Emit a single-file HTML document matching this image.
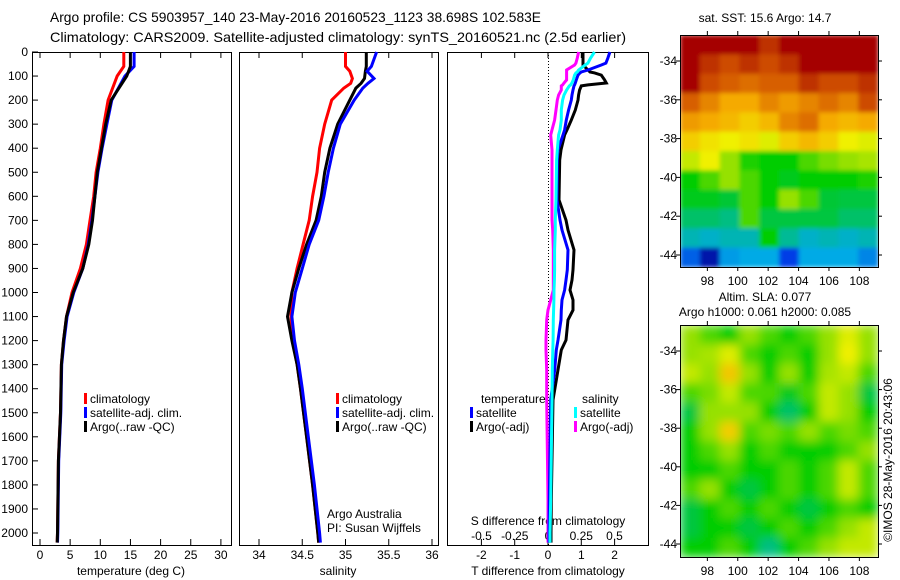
<!DOCTYPE html>
<html><head><meta charset="utf-8"><style>
body{margin:0;background:#fff;}
svg{display:block;font-family:"Liberation Sans",sans-serif;}
text{font-size:12px;fill:#000;}
</style></head><body>
<svg id="c" width="900" height="580" xmlns="http://www.w3.org/2000/svg">
<defs>
<filter id="blur" x="0" y="0" width="1" height="1"><feGaussianBlur stdDeviation="5" edgeMode="duplicate"/></filter>
<filter id="blur2" x="0" y="0" width="1" height="1"><feGaussianBlur stdDeviation="2" edgeMode="duplicate"/></filter>
</defs>
<text x="50" y="22" textLength="491" lengthAdjust="spacingAndGlyphs" style="font-size:14px">Argo profile: CS 5903957_140 23-May-2016 20160523_1123 38.698S 102.583E</text>
<text x="50" y="42" textLength="576" lengthAdjust="spacingAndGlyphs" style="font-size:14px">Climatology: CARS2009. Satellite-adjusted climatology: synTS_20160521.nc (2.5d earlier)</text>
<text x="765" y="22" text-anchor="middle">sat. SST: 15.6 Argo: 14.7</text>
<text x="765" y="301" text-anchor="middle">Altim. SLA: 0.077</text>
<text x="765" y="316" text-anchor="middle">Argo h1000: 0.061 h2000: 0.085</text>
<text transform="translate(892,460) rotate(-90)" text-anchor="middle">©IMOS 28-May-2016 20:43:06</text>
<text x="327" y="518">Argo Australia</text>
<text x="327" y="532">PI: Susan Wijffels</text>
<g id="g"></g>
</svg>
<script>
// ---------- data ----------
const tDepth=[0,60,100,200,300,400,500,600,700,800,900,1000,1100,1200,1300,1500,1700,2000,2040];
const tClim=[13.9,13.9,12.8,11.3,10.6,10.0,9.3,8.9,8.3,7.7,6.7,5.3,4.4,3.9,3.55,3.4,3.05,2.9,2.85];
const tSat=[15.6,15.6,14.1,11.9,11.1,10.3,9.6,9.1,8.6,8.0,7.1,5.6,4.5,4.0,3.6,3.45,3.1,2.95,2.9];
const tArgo=[15.0,15.0,14.4,11.8,10.9,10.2,9.5,9.1,8.7,8.1,7.1,5.5,4.4,3.9,3.55,3.4,3.05,2.9,2.85];
const sDepth=[0,60,80,110,130,150,200,300,400,500,600,700,800,900,1000,1100,1200,1300,1400,1600,1800,2000,2040];
const sClim=[35.0,35.0,35.05,35.08,35.06,34.98,34.84,34.76,34.70,34.67,34.62,34.58,34.51,34.44,34.38,34.37,34.39,34.44,34.48,34.55,34.62,34.68,34.69];
const sSat=[35.36,35.30,35.25,35.33,35.26,35.2,35.1,34.94,34.86,34.80,34.75,34.69,34.58,34.50,34.42,34.38,34.41,34.46,34.50,34.57,34.64,34.70,34.71];
const sArgo=[35.24,35.24,35.23,35.22,35.18,35.12,35.05,34.91,34.82,34.76,34.72,34.66,34.55,34.46,34.38,34.33,34.38,34.44,34.48,34.55,34.62,34.68,34.69];
const dDepth=[0,25,46,54,75,83,87,96,116,129,137,141,158,179,200,241,283,324,345,407,449,615,699,740,823,906,948,990,1031,1073,1114,1198,1239,1322,1447,1863,2000,2040];
const dTsat=[1.86,1.8,1.74,1.6,1.2,1.0,0.96,0.9,0.85,0.82,0.8,0.78,0.75,0.72,0.7,0.62,0.55,0.5,0.45,0.3,0.28,0.27,0.36,0.42,0.6,0.58,0.54,0.5,0.42,0.4,0.39,0.3,0.25,0.2,0.08,0.04,0.03,0.03];
const dTargo=[1.05,1.05,1.05,1.05,1.2,1.26,1.4,1.6,1.7,1.75,1.2,1.0,0.95,0.92,0.9,0.82,0.7,0.57,0.5,0.39,0.35,0.33,0.54,0.6,0.78,0.75,0.72,0.66,0.75,0.75,0.6,0.54,0.4,0.3,0.15,0.1,0.09,0.09];
const dSsat=[0.35,0.32,0.3,0.28,0.23,0.22,0.21,0.2,0.19,0.18,0.17,0.16,0.14,0.12,0.11,0.1,0.1,0.09,0.08,0.07,0.065,0.06,0.055,0.055,0.05,0.05,0.048,0.045,0.044,0.042,0.04,0.038,0.036,0.032,0.03,0.02,0.015,0.015];
const dSargo=[0.23,0.22,0.21,0.2,0.14,0.14,0.14,0.14,0.14,0.12,0.11,0.1,0.1,0.08,0.07,0.06,0.05,0.03,0.02,0.03,0.03,0.03,0.03,0.035,0.04,0.04,0.04,0.04,0.02,0.0,-0.01,-0.015,-0.015,-0.01,-0.01,0,0,0];
const depthTicks=[0,100,200,300,400,500,600,700,800,900,1000,1100,1200,1300,1400,1500,1600,1700,1800,1900,2000];
const tTicks=[0,5,10,15,20,25,30];
const sTicks=[34,34.5,35,35.5,36];
const dtTicks=[-2,-1,0,1,2];
const dsTicks=[-0.5,-0.25,0,0.25,0.5];
const dsTickLabels=["-0.5","-0.25","0","0.25","0.5"];
const latTicks=[-34,-36,-38,-40,-42,-44];
const lonTicks=[98,100,102,104,106,108];
const sstGrid=[
[1,1,1,1,0.95,1,1,1,1,1],
[1,0.95,0.92,0.95,0.92,0.95,1,1,1,1],
[1,0.92,0.9,0.88,0.9,0.9,0.95,0.92,0.92,0.95],
[0.9,0.85,0.8,0.8,0.85,0.82,0.85,0.88,0.85,0.92],
[0.82,0.8,0.78,0.75,0.78,0.85,0.88,0.8,0.78,0.8],
[0.75,0.72,0.7,0.72,0.68,0.75,0.78,0.75,0.7,0.68],
[0.65,0.7,0.6,0.52,0.5,0.5,0.55,0.58,0.6,0.62],
[0.5,0.55,0.6,0.55,0.5,0.48,0.5,0.5,0.5,0.52],
[0.48,0.48,0.46,0.55,0.5,0.6,0.55,0.46,0.45,0.45],
[0.42,0.42,0.4,0.55,0.45,0.45,0.45,0.45,0.42,0.42],
[0.35,0.33,0.35,0.35,0.5,0.38,0.33,0.35,0.33,0.35],
[0.2,0.05,0.28,0.3,0.3,0.15,0.3,0.3,0.3,0.25]];
const slaGrid=[
[.6,.55,.5,.6,.55,.5,.55,.6,.68,.6],
[.6,.62,.68,.55,.5,.55,.5,.6,.7,.6],
[.65,.6,.76,.6,.5,.6,.5,.62,.65,.55],
[.55,.58,.65,.55,.55,.48,.55,.65,.6,.45],
[.45,.6,.6,.6,.5,.42,.5,.65,.6,.5],
[.5,.6,.75,.55,.58,.55,.6,.55,.58,.55],
[.5,.55,.6,.5,.55,.5,.5,.5,.55,.6],
[.5,.5,.55,.5,.5,.55,.5,.55,.65,.55],
[.55,.6,.5,.45,.5,.55,.5,.55,.65,.55],
[.45,.5,.55,.5,.55,.5,.45,.5,.55,.5],
[.45,.5,.5,.45,.5,.55,.5,.55,.6,.65],
[.5,.5,.55,.5,.4,.5,.55,.6,.65,.65]];
// ---------- helpers ----------
const NS="http://www.w3.org/2000/svg",G=document.getElementById('g');
function mk(tag,a,parent){const e=document.createElementNS(NS,tag);for(const k in a)e.setAttribute(k,a[k]);(parent||G).appendChild(e);return e;}
const yD=d=>52+d*0.2405;
const xT=v=>40+v*6.03, xS=v=>259+(v-34)*86.5, xDT=v=>548+v*33.3, xDS=v=>548+v*133;
const panels=[[32,231],[239,438],[447,648]];
panels.forEach((p,i)=>{
 const r=mk('rect',{x:p[0]+.5,y:52.5,width:p[1]-p[0],height:493,fill:'none',stroke:'#000'});
 
 
});
depthTicks.forEach(d=>{
 mk('line',{x1:32,x2:38,y1:yD(d),y2:yD(d),stroke:'#000'});
 const t=mk('text',{x:28,y:yD(d)+4,'text-anchor':'end'});t.textContent=d;
 
 
});
function xticks(ticks,fx,labels,ly){ticks.forEach((v,i)=>{const x=fx(v);
 mk('line',{x1:x,x2:x,y1:52,y2:58,stroke:'#000'});mk('line',{x1:x,x2:x,y1:539,y2:545,stroke:'#000'});
 const t=mk('text',{x:x,y:ly,'text-anchor':'middle'});t.textContent=labels?labels[i]:v;
 
 });}
xticks(tTicks,xT,null,559);xticks(sTicks,xS,null,559);xticks(dtTicks,xDT,null,559);
dsTicks.forEach((v,i)=>{const t=mk('text',{x:xDS(v),y:540,'text-anchor':'middle'});t.textContent=dsTickLabels[i];
 
 });
[['temperature (deg C)',131,575,'x-axis-title-temperature'],['salinity',338,575,'x-axis-title-salinity'],['T difference from climatology',548,575,'x-axis-title-t-diff'],['S difference from climatology',548,525,'x-axis-title-s-diff']].forEach(a=>{
 const t=mk('text',{x:a[1],y:a[2],'text-anchor':'middle'});t.textContent=a[0];
 
 });
mk('line',{x1:548.5,x2:548.5,y1:52,y2:545,stroke:'#000','stroke-dasharray':'1,2'});
function line(depths,vals,fx,col,name){
 const pts=depths.map((d,i)=>fx(vals[i]).toFixed(1)+','+yD(d).toFixed(1)).join(' ');
 const l=mk('polyline',{points:pts,fill:'none',stroke:col,'stroke-width':3});
 
 }
line(tDepth,tClim,xT,'#f00','temp-climatology-line');
line(tDepth,tSat,xT,'#00f','temp-satellite-line');
line(tDepth,tArgo,xT,'#000','temp-argo-line');
line(sDepth,sClim,xS,'#f00','sal-climatology-line');
line(sDepth,sArgo,xS,'#000','sal-argo-line');
line(sDepth,sSat,xS,'#00f','sal-satellite-line');
line(dDepth,dTargo,xDT,'#000','tdiff-argo-line');
line(dDepth,dSargo,xDS,'#f0f','sdiff-argo-line');
line(dDepth,dTsat,xDT,'#00f','tdiff-satellite-line');
line(dDepth,dSsat,xDS,'#0ff','sdiff-satellite-line');
function leg(x,y,col,txt){mk('rect',{x:x,y:y-10,width:3,height:11,fill:col});
 const t=mk('text',{x:x+6,y:y});t.textContent=txt;
 
 }
leg(84,403,'#f00','climatology');leg(84,417,'#00f','satellite-adj. clim.');leg(84,431,'#000','Argo(..raw -QC)');
leg(336,403,'#f00','climatology');leg(336,417,'#00f','satellite-adj. clim.');leg(336,431,'#000','Argo(..raw -QC)');
let tt=mk('text',{x:481,y:403});tt.textContent='temperature';


tt=mk('text',{x:582,y:403});tt.textContent='salinity';


leg(470,417,'#00f','satellite');leg(470,431,'#000','Argo(-adj)');leg(574,417,'#0ff','satellite');leg(574,431,'#f0f','Argo(-adj)');
// ---------- maps ----------
const stops=[[0,[0,0,140]],[0.15,[0,60,230]],[0.3,[0,170,230]],[0.4,[0,190,130]],[0.5,[0,205,0]],[0.6,[150,225,0]],[0.7,[240,240,0]],[0.8,[245,170,0]],[0.9,[215,95,0]],[1,[165,0,0]]];
function cmap(v){for(let i=1;i<stops.length;i++){if(v<=stops[i][0]){const a=stops[i-1],b=stops[i],f=(v-a[0])/(b[0]-a[0]);
 return 'rgb('+a[1].map((c,k)=>Math.round(c+(b[1][k]-c)*f)).join(',')+')';}}return 'rgb(165,0,0)';}
function map(grid,x0,y0,w,h,latY,name,lonY,filt){
 const rows=grid.length,cols=grid[0].length,cw=w/cols,ch=h/rows;
 const cg=mk('g',{filter:'url(#'+filt+')'});
 
 
 grid.forEach((row,r)=>row.forEach((v,c)=>{const e=mk('rect',{x:x0+c*cw,y:y0+r*ch,width:cw+0.5,height:ch+0.5,fill:cmap(v)},cg);
  
  }));
 const f=mk('rect',{x:x0+.5,y:y0+.5,width:w,height:h,fill:'none',stroke:'#000'});
 
 
 latTicks.forEach(l=>{const y=latY(l);mk('line',{x1:x0-4,x2:x0,y1:y,y2:y,stroke:'#000'});mk('line',{x1:x0+w,x2:x0+w+4,y1:y,y2:y,stroke:'#000'});
  const t=mk('text',{x:x0-3,y:y+4,'text-anchor':'end'});t.textContent=l;
  
  });
 lonTicks.forEach(l=>{const x=x0+(l-96.2)*15.2;mk('line',{x1:x,x2:x,y1:y0-4,y2:y0,stroke:'#000'});mk('line',{x1:x,x2:x,y1:y0+h,y2:y0+h+4,stroke:'#000'});
  const t=mk('text',{x:x,y:lonY,'text-anchor':'middle'});t.textContent=l;
  
  });
}
map(sstGrid,680,35,198,232,l=>61+(-34-l)*19.4,'sst-map',285,'blur2');
map(slaGrid,680,325,198,232,l=>351+(-34-l)*19.3,'sla-map',575,'blur');
</script>
</body></html>
